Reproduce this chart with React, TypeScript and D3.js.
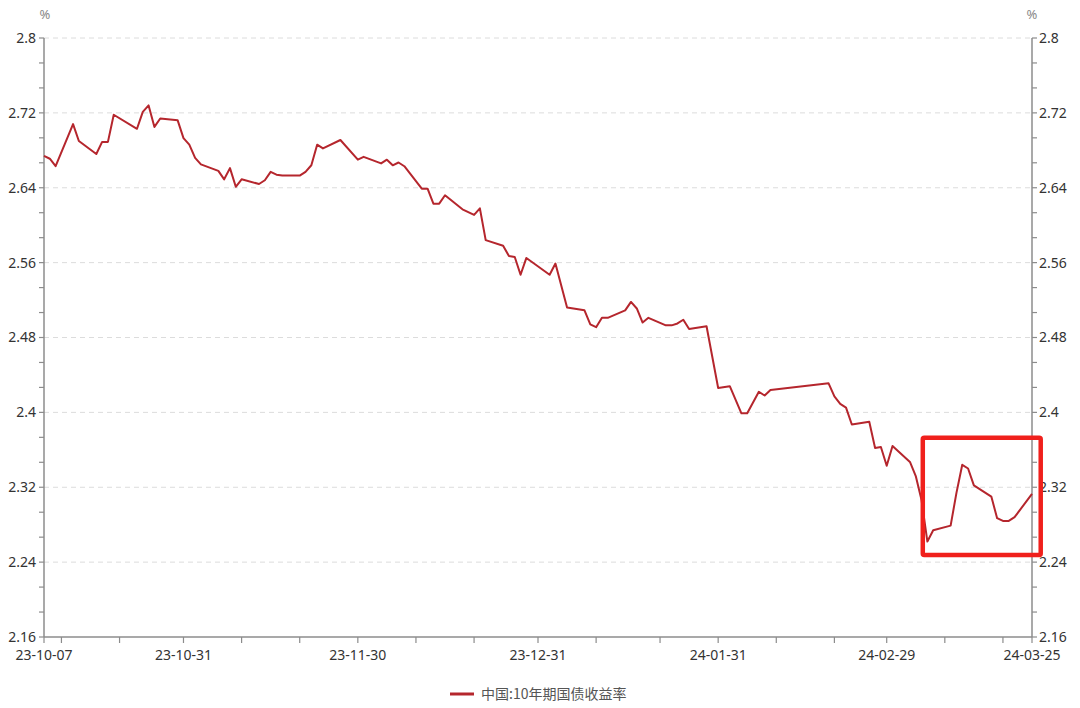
import React from "react";
import * as d3 from "d3";

// ---- data ----
const dates: string[] = [
  "2023-10-07","2023-10-08","2023-10-09","2023-10-12","2023-10-13","2023-10-16","2023-10-17","2023-10-18","2023-10-19",
  "2023-10-23","2023-10-24","2023-10-25","2023-10-26","2023-10-27","2023-10-30","2023-10-31",
  "2023-11-01","2023-11-02","2023-11-03","2023-11-06","2023-11-07","2023-11-08","2023-11-09","2023-11-10",
  "2023-11-13","2023-11-14","2023-11-15","2023-11-16","2023-11-17","2023-11-20","2023-11-21","2023-11-22","2023-11-23","2023-11-24",
  "2023-11-27","2023-11-30","2023-12-01","2023-12-04","2023-12-05","2023-12-06","2023-12-07","2023-12-08",
  "2023-12-11","2023-12-12","2023-12-13","2023-12-14","2023-12-15","2023-12-18","2023-12-20","2023-12-21","2023-12-22",
  "2023-12-25","2023-12-26","2023-12-27","2023-12-28","2023-12-29","2024-01-02","2024-01-03","2024-01-05",
  "2024-01-08","2024-01-09","2024-01-10","2024-01-11","2024-01-12","2024-01-15","2024-01-16","2024-01-17","2024-01-18","2024-01-19",
  "2024-01-22","2024-01-23","2024-01-24","2024-01-25","2024-01-26","2024-01-29","2024-01-31","2024-02-02",
  "2024-02-04","2024-02-05","2024-02-07","2024-02-08","2024-02-09","2024-02-19","2024-02-20","2024-02-21","2024-02-22","2024-02-23",
  "2024-02-26","2024-02-27","2024-02-28","2024-02-29","2024-03-01","2024-03-04","2024-03-05","2024-03-06","2024-03-07","2024-03-08",
  "2024-03-11","2024-03-12","2024-03-13","2024-03-14","2024-03-15","2024-03-18","2024-03-19","2024-03-20","2024-03-21","2024-03-22",
  "2024-03-25",
];
const yields: number[] = [
  2.674,2.671,2.663,2.708,2.690,2.676,2.689,2.689,2.718,
  2.703,2.721,2.728,2.705,2.714,2.712,2.693,
  2.686,2.672,2.665,2.658,2.649,2.661,2.641,2.649,
  2.644,2.648,2.657,2.654,2.653,2.653,2.657,2.664,2.686,2.682,
  2.691,2.670,2.673,2.666,2.670,2.664,2.667,2.663,
  2.639,2.639,2.623,2.623,2.632,2.617,2.611,2.618,2.584,
  2.578,2.567,2.566,2.547,2.565,2.547,2.559,2.512,
  2.509,2.494,2.491,2.501,2.501,2.509,2.518,2.511,2.496,2.501,
  2.493,2.493,2.495,2.499,2.489,2.492,2.426,2.428,
  2.399,2.399,2.422,2.418,2.424,2.431,2.417,2.409,2.405,2.387,
  2.390,2.362,2.363,2.343,2.364,2.347,2.332,2.306,2.262,2.274,
  2.279,2.314,2.344,2.340,2.322,2.310,2.287,2.284,2.284,2.288,
  2.313,
];
const seriesName = "中国:10年期国债收益率";
const yTickValues: number[] = [2.16, 2.24, 2.32, 2.4, 2.48, 2.56, 2.64, 2.72, 2.8];
const yTickLabels: string[] = ["2.16", "2.24", "2.32", "2.4", "2.48", "2.56", "2.64", "2.72", "2.8"];
const xTickDates: string[] = [
  "2023-10-07","2023-10-10","2023-10-20","2023-10-31","2023-11-10","2023-11-20","2023-11-30","2023-12-10","2023-12-20",
  "2023-12-31","2024-01-10","2024-01-21","2024-01-31","2024-02-10","2024-02-20","2024-02-29","2024-03-10","2024-03-20","2024-03-25",
];
const xLabelDates: string[] = ["2023-10-07","2023-10-31","2023-11-30","2023-12-31","2024-01-31","2024-02-29","2024-03-25"];
// highlight box (annotation) in data coordinates
const boxFrom = "2024-03-06T05:00";
const boxTo = "2024-03-26T12:00";
const boxHigh = 2.373;
const boxLow = 2.2476;

const W = 1080, H = 708;
const M = { left: 44, right: 48, top: 38, bottom: 71 };
const FONT = "'Noto Sans', 'Noto Sans CJK SC', sans-serif";

export default function App() {
  const parse = d3.timeParse("%Y-%m-%d");
  const parseT = d3.timeParse("%Y-%m-%dT%H:%M");
  const fmt = d3.timeFormat("%y-%m-%d");
  const data = dates.map((d, i) => ({ date: parse(d) as Date, v: yields[i] }));

  const x = d3.scaleTime()
    .domain([parse("2023-10-07") as Date, parse("2024-03-25") as Date])
    .range([M.left, W - M.right]);
  const y = d3.scaleLinear().domain([2.16, 2.8]).range([H - M.bottom, M.top]);

  const line = d3.line<{ date: Date; v: number }>()
    .x(d => x(d.date))
    .y(d => y(d.v));

  const minorY = d3.range(0, 25).map(i => 2.16 + (i * 0.08) / 3);
  const x0 = M.left, x1 = W - M.right, yb = H - M.bottom, yt = M.top;
  const axisColor = "#8c8c8c";

  const bx0 = x(parseT(boxFrom) as Date), bx1 = x(parseT(boxTo) as Date);
  const by0 = y(boxHigh), by1 = y(boxLow);

  return (
    <svg width={W} height={H} style={{ position: "absolute", left: 0, top: 0, background: "#fff" }} fontFamily={FONT}>
      <rect x={0} y={0} width={W} height={H} fill="#fff" />
      {/* grid */}
      {yTickValues.filter(v => v > 2.17).map((v, i) => (
        <line key={"g" + i} x1={x0} x2={x1} y1={y(v)} y2={y(v)} stroke="#dcdcdc" strokeDasharray="5,4" strokeWidth={1} />
      ))}
      {/* y axes */}
      <line x1={x0} x2={x0} y1={yt} y2={yb} stroke={axisColor} strokeWidth={1.5} />
      <line x1={x1} x2={x1} y1={yt} y2={yb} stroke={axisColor} strokeWidth={1.5} />
      {minorY.map((v, i) => (
        <g key={"m" + i}>
          <line x1={x0 - 5} x2={x0} y1={y(v)} y2={y(v)} stroke={axisColor} strokeWidth={1.2} />
          <line x1={x1} x2={x1 + 5} y1={y(v)} y2={y(v)} stroke={axisColor} strokeWidth={1.2} />
        </g>
      ))}
      {yTickValues.map((v, i) => (
        <g key={"yl" + i}>
          <text x={x0 - 8} y={y(v)} dy="0.35em" textAnchor="end" fontSize={14} fill="#333">{yTickLabels[i]}</text>
          <text x={x1 + 7} y={y(v)} dy="0.35em" textAnchor="start" fontSize={14} fill="#333">{yTickLabels[i]}</text>
        </g>
      ))}
      <text x={x0 + 1} y={19} textAnchor="middle" fontSize={13} fill="#888">%</text>
      <text x={x1} y={19} textAnchor="middle" fontSize={13} fill="#888">%</text>
      {/* x axis */}
      <line x1={x0} x2={x1} y1={yb} y2={yb} stroke={axisColor} strokeWidth={1.5} />
      {xTickDates.map((d, i) => (
        <line key={"xt" + i} x1={x(parse(d) as Date)} x2={x(parse(d) as Date)} y1={yb} y2={yb + 6} stroke={axisColor} strokeWidth={1.2} />
      ))}
      {xLabelDates.map((d, i) => (
        <text key={"xl" + i} x={x(parse(d) as Date)} y={yb + 23} textAnchor="middle" fontSize={14} fill="#333">
          {fmt(parse(d) as Date)}
        </text>
      ))}
      {/* series */}
      <path d={line(data) || ""} fill="none" stroke="#b5262d" strokeWidth={2} strokeLinejoin="round" />
      {/* highlight box */}
      <rect x={bx0} y={by0} width={bx1 - bx0} height={by1 - by0} fill="none" stroke="#f0201c" strokeWidth={4.5} rx={1.5} />
      {/* legend */}
      <line x1={450} x2={474} y1={694} y2={694} stroke="#b5262d" strokeWidth={3} />
      <text x={481} y={699} fontSize={14} fill="#555" fontFamily="'Noto Sans CJK SC', 'Noto Sans', sans-serif">{seriesName}</text>
    </svg>
  );
}
